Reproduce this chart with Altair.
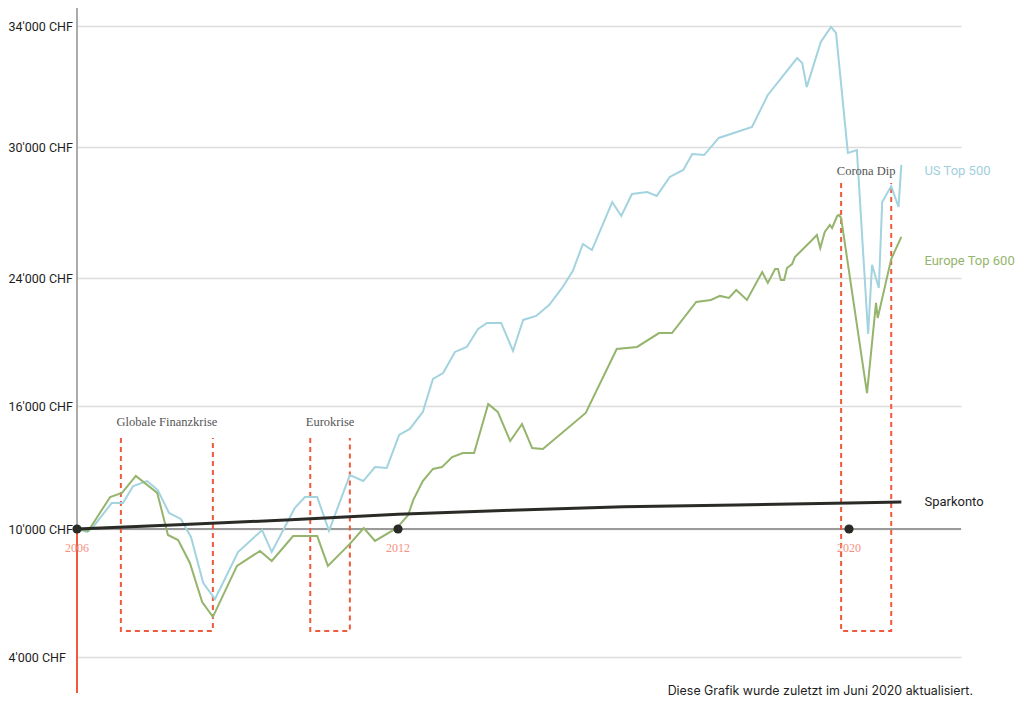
import altair as alt
import pandas as pd

# ---------------- data ----------------
us_year = [2006.00, 2006.19, 2006.30, 2006.65, 2006.86, 2007.05, 2007.31, 2007.51, 2007.72, 2007.94,
           2008.13, 2008.36, 2008.58, 2009.01, 2009.46, 2009.64, 2010.07, 2010.26, 2010.49, 2010.71,
           2011.10, 2011.35, 2011.57, 2011.79, 2012.02, 2012.21, 2012.44, 2012.62, 2012.80, 2013.01,
           2013.22, 2013.42, 2013.58, 2013.83, 2014.04, 2014.22, 2014.45, 2014.68, 2014.91, 2015.10,
           2015.28, 2015.44, 2015.80, 2015.96, 2016.15, 2016.42, 2016.59, 2016.82, 2017.06, 2017.22,
           2017.43, 2017.69, 2018.28, 2018.56, 2019.08, 2019.17, 2019.25, 2019.50, 2019.68, 2019.77,
           2019.98, 2020.14, 2020.34, 2020.41, 2020.53, 2020.59, 2020.75, 2020.88, 2020.93]
us_value = [10000, 9860, 10100, 11270, 11270, 12100, 12340, 11900, 10780, 10490,
            9625, 7470, 6720, 8920, 9950, 8920, 11020, 11560, 11560, 9910,
            12630, 12340, 13020, 12980, 14590, 14880, 15710, 17690, 18060, 19380,
            19690, 20810, 21190, 21190, 19440, 21380, 21630, 22310, 23380, 24320,
            25560, 25280, 27480, 26840, 27850, 27940, 27760, 28630, 28950, 29680,
            29630, 30300, 30660, 31720, 32940, 32780, 31980, 33470, 33970, 33770,
            29730, 29860, 20500, 24600, 23380, 27480, 28210, 27250, 29180]

eu_year = [2006.00, 2006.21, 2006.62, 2006.84, 2007.10, 2007.50, 2007.70, 2007.89, 2008.11, 2008.34,
           2008.54, 2008.99, 2009.42, 2009.64, 2010.04, 2010.49, 2010.69, 2011.10, 2011.36, 2011.57,
           2011.98, 2012.18, 2012.27, 2012.44, 2012.62, 2012.78, 2012.96, 2013.15, 2013.35, 2013.60,
           2013.77, 2013.99, 2014.20, 2014.38, 2014.57, 2015.33, 2015.88, 2016.24, 2016.63, 2016.86,
           2017.29, 2017.55, 2017.71, 2017.87, 2018.00, 2018.19, 2018.46, 2018.56, 2018.69, 2018.74,
           2018.79, 2018.85, 2018.90, 2018.99, 2019.04, 2019.31, 2019.43, 2019.49, 2019.57, 2019.66,
           2019.70, 2019.79, 2019.82, 2019.86, 2020.32, 2020.48, 2020.51, 2020.75, 2020.93]
eu_value = [10000, 9910, 11560, 11760, 12590, 11760, 9720, 9480, 8410, 6580,
            5880, 8270, 8970, 8500, 9670, 9670, 8270, 9300, 10050, 9440,
            10050, 10680, 11410, 12340, 12930, 13020, 13510, 13710, 13710, 16130,
            15710, 14290, 15120, 13950, 13900, 15660, 19560, 19690, 20560, 20560,
            22500, 22630, 22880, 22750, 23250, 22630, 24270, 23690, 24410, 24410,
            23880, 23880, 24460, 24640, 24960, 25650, 25970, 25370, 26110, 26430,
            26290, 26840, 26890, 26750, 16810, 22440, 21500, 24870, 25880]

spar_year = [2006, 2008, 2010, 2012, 2014, 2016, 2018, 2020, 2020.93]
spar_value = [10000, 10220, 10450, 10720, 10910, 11090, 11170, 11270, 11320]

y_ticks = [4000, 10000, 16000, 24000, 30000, 34000]
year_marks = [2006, 2012, 2020]

crisis_names = ["Globale Finanzkrise", "Eurokrise", "Corona Dip"]
crisis_start = [2006.82, 2010.36, 2019.86]
crisis_end = [2008.54, 2011.10, 2020.75]
crisis_top = [14440, 14440, 28350]
crisis_bottom = [5220, 5220, 5220]
crisis_label_value = [15220, 15220, 28900]

series_labels = ["US Top 500", "Europe Top 600", "Sparkonto"]
series_label_year = [2021.34, 2021.34, 2021.34]
series_label_value = [28900, 24780, 11320]

footer = "Diese Grafik wurde zuletzt im Juni 2020 aktualisiert."

# ---------------- tables ----------------
series_df = pd.concat([
    pd.DataFrame({"year": us_year, "value": us_value, "series": "US Top 500"}),
    pd.DataFrame({"year": eu_year, "value": eu_value, "series": "Europe Top 600"}),
])
spar_df = pd.DataFrame({"year": spar_year, "value": spar_value})
marks_df = pd.DataFrame({"year": year_marks, "value": [10000] * len(year_marks),
                         "label": [str(y) for y in year_marks]})
box_rows = []
for n, s, e, t, b in zip(crisis_names, crisis_start, crisis_end, crisis_top, crisis_bottom):
    box_rows += [
        {"crisis": n, "o": 0, "year": s, "value": t},
        {"crisis": n, "o": 1, "year": s, "value": b},
        {"crisis": n, "o": 2, "year": e, "value": b},
        {"crisis": n, "o": 3, "year": e, "value": t},
    ]
box_df = pd.DataFrame(box_rows)
crisis_lbl_df = pd.DataFrame({
    "label": crisis_names,
    "year": [(s + e) / 2 for s, e in zip(crisis_start, crisis_end)],
    "value": crisis_label_value,
})
slabel_df = pd.DataFrame({"label": series_labels, "year": series_label_year,
                          "value": series_label_value})
base_df = pd.DataFrame({"year": [2006], "value": [10000]})
footer_df = pd.DataFrame({"t": [footer]})

W, H = 884, 685
RED = "#ef5a3c"
SANS = "Roboto"

xscale = alt.Scale(domain=[2006, 2012, 2020, 2021.99], range=[0, 321, 772, 884], zero=False, nice=False)
yscale = alt.Scale(domain=y_ticks, range=[649, 521, 398, 270, 139, 18], zero=False, nice=False)
yaxis = alt.Axis(
    values=y_ticks,
    labelExpr="replace(format(datum.value, ','), ',', \"'\") + ' CHF'",
    domain=False, ticks=False, tickSize=0, grid=True, gridColor="#dcdcdc", gridWidth=1.5,
    labelAlign="left", labelPadding=69, labelFont=SANS, labelFontSize=12.5,
    labelColor="#1e1e1e", labelOverlap=False, title=None,
)


def X():
    return alt.X("year:Q", scale=xscale, axis=None)


def Y():
    return alt.Y("value:Q", scale=yscale, axis=yaxis)


grid_layer = alt.Chart(pd.DataFrame({"year": [2006.0], "value": [10000]})).mark_point(opacity=0).encode(x=X(), y=Y())

base_rule = alt.Chart(base_df).mark_rule(color="#9a9a9a", strokeWidth=2).encode(
    y=Y(), x=alt.value(0), x2=alt.value(W))
gray_axis = alt.Chart(base_df).mark_rule(color="#ababab", strokeWidth=2).encode(
    x=X(), y=Y(), y2=alt.value(0))
red_axis = alt.Chart(base_df).mark_rule(color=RED, strokeWidth=2).encode(
    x=X(), y=Y(), y2=alt.value(H))

boxes = alt.Chart(box_df).mark_line(color=RED, strokeWidth=2, strokeDash=[5, 4]).encode(
    x=X(), y=Y(), detail="crisis:N", order="o:Q")

lines = alt.Chart(series_df).mark_line(strokeWidth=2).encode(
    x=X(), y=Y(),
    color=alt.Color("series:N", scale=alt.Scale(domain=["US Top 500", "Europe Top 600"],
                                                range=["#a3d3df", "#95b46c"]), legend=None),
)
spar = alt.Chart(spar_df).mark_line(color="#2a2a26", strokeWidth=3).encode(x=X(), y=Y())

dots = alt.Chart(marks_df).mark_circle(size=85, color="#2a2a26", opacity=1).encode(x=X(), y=Y())
year_txt = alt.Chart(marks_df).mark_text(font="Liberation Serif", fontSize=12, color="#f4917f",
                                         dy=19).encode(x=X(), y=Y(), text="label:N")

crisis_txt = alt.Chart(crisis_lbl_df).mark_text(font="Liberation Serif", fontSize=12.5,
                                                color="#555555").encode(x=X(), y=Y(), text="label:N")

slabels = alt.Chart(slabel_df).mark_text(font=SANS, fontSize=13, align="left").encode(
    x=X(), y=Y(), text="label:N",
    color=alt.Color("label:N", scale=alt.Scale(domain=series_labels,
                                               range=["#9fcfdc", "#95b46c", "#1e1e1e"]), legend=None),
)

foot = alt.Chart(footer_df).mark_text(font="Inter", fontSize=12.4, align="right", color="#1e1e1e").encode(
    x=alt.value(896), y=alt.value(683), text="t:N")

chart = alt.layer(
    grid_layer, base_rule, gray_axis, red_axis, boxes, lines, spar, dots, year_txt,
    crisis_txt, slabels, foot,
).resolve_scale(color="independent").properties(
    width=W, height=H,
    autosize=alt.AutoSizeParams(type="none"),
    padding={"left": 69, "top": 0, "right": 55, "bottom": 8},
).configure_view(stroke=None)

chart.save("out.html", embed_options={"renderer": "svg", "actions": False})
